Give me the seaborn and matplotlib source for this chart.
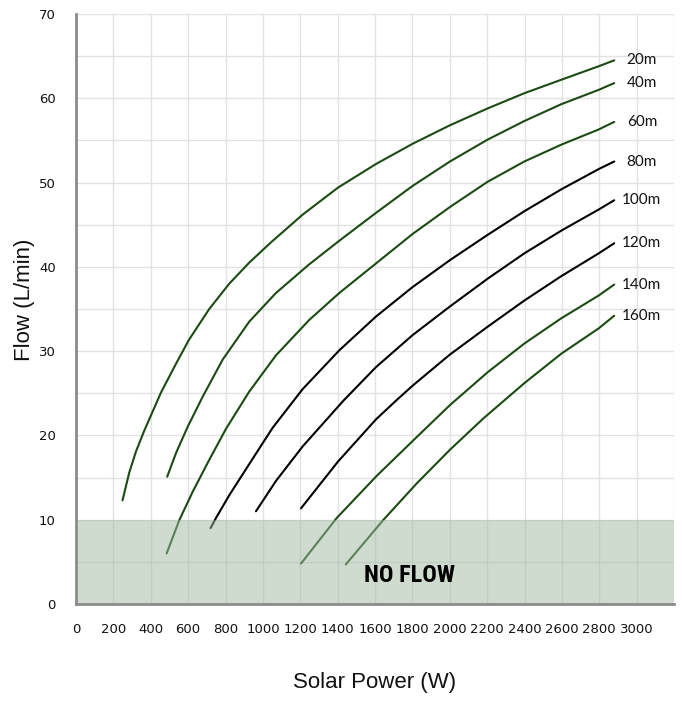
import numpy as np
import pandas as pd
import matplotlib
matplotlib.use("Agg")
import matplotlib.pyplot as plt
from matplotlib import font_manager
import seaborn as sns

# Pump curves: flow (L/min) against solar power (W) for each total head
heads = ["20m", "40m", "60m", "80m", "100m", "120m", "140m", "160m"]

power_20m = [249, 285, 321, 366, 455, 535, 606, 713, 820, 927, 1043, 1213, 1402, 1605, 1801, 2001, 2203, 2399, 2597, 2797, 2880]
flow_20m = [12.3, 15.6, 18.1, 20.6, 25.1, 28.5, 31.4, 35.0, 38.0, 40.5, 42.9, 46.2, 49.4, 52.2, 54.6, 56.8, 58.8, 60.6, 62.2, 63.8, 64.5]

power_40m = [488, 535, 597, 678, 785, 927, 1070, 1248, 1409, 1605, 1801, 2001, 2203, 2399, 2597, 2797, 2880]
flow_40m = [15.1, 17.9, 21.0, 24.6, 29.0, 33.5, 36.9, 40.3, 43.1, 46.4, 49.6, 52.5, 55.1, 57.3, 59.3, 61.0, 61.8]

power_60m = [485, 553, 624, 713, 803, 927, 1070, 1248, 1409, 1605, 1801, 2001, 2203, 2399, 2597, 2797, 2880]
flow_60m = [6.0, 9.96, 13.3, 17.1, 20.8, 25.2, 29.5, 33.7, 36.9, 40.4, 43.9, 47.1, 50.1, 52.5, 54.5, 56.3, 57.2]

power_80m = [720, 749, 820, 927, 1052, 1213, 1409, 1605, 1801, 2001, 2203, 2399, 2597, 2797, 2880]
flow_80m = [9.0, 10.2, 12.9, 16.6, 20.9, 25.5, 30.1, 34.1, 37.6, 40.8, 43.8, 46.6, 49.2, 51.6, 52.5]

power_100m = [963, 1070, 1213, 1430, 1605, 1801, 2001, 2203, 2399, 2597, 2797, 2880]
flow_100m = [11.0, 14.6, 18.7, 24.1, 28.1, 31.9, 35.3, 38.6, 41.6, 44.3, 46.8, 47.9]

power_120m = [1204, 1402, 1605, 1716, 1801, 2001, 2203, 2399, 2597, 2797, 2880]
flow_120m = [11.35, 16.9, 21.9, 24.2, 25.9, 29.6, 32.9, 36.0, 38.9, 41.6, 42.8]

power_140m = [1204, 1395, 1609, 1823, 2001, 2203, 2399, 2597, 2797, 2880]
flow_140m = [4.8, 10.2, 15.2, 19.8, 23.6, 27.5, 30.9, 33.9, 36.6, 37.9]

power_160m = [1444, 1644, 1823, 2001, 2179, 2399, 2597, 2797, 2880]
flow_160m = [4.7, 9.96, 14.3, 18.3, 22.0, 26.2, 29.7, 32.7, 34.2]

powers = [power_20m, power_40m, power_60m, power_80m, power_100m, power_120m, power_140m, power_160m]
flows = [flow_20m, flow_40m, flow_60m, flow_80m, flow_100m, flow_120m, flow_140m, flow_160m]

x_ticks = list(range(0, 3001, 200))
y_ticks = list(range(0, 71, 10))
no_flow_limit = 10

green = "#1b4a12"
palette = {h: (green if h in ("20m", "40m", "60m", "140m", "160m") else "#000000") for h in heads}

df = pd.concat(
    [pd.DataFrame({"Solar Power (W)": p, "Flow (L/min)": f, "Head": h})
     for h, p, f in zip(heads, powers, flows)],
    ignore_index=True,
)


def condensed_bold():
    """Pick a narrow bold face for the zone caption, if one is installed."""
    for family, stretch in [("Roboto Condensed", "normal"), ("Liberation Sans Narrow", "normal"),
                            ("DejaVu Sans", "condensed"), ("Open Sans", "condensed"),
                            ("Roboto", "condensed")]:
        prop = font_manager.FontProperties(family=family, weight="bold", stretch=stretch)
        try:
            path = font_manager.findfont(prop, fallback_to_default=False)
        except ValueError:
            continue
        low = path.lower()
        if "condensed" in low or "narrow" in low:
            return prop
    return font_manager.FontProperties(family="Liberation Sans", weight="bold")


sns.set_theme(style="white")
plt.rcParams["font.family"] = ["DejaVu Sans"]

fig = plt.figure(figsize=(6.82, 7.02), dpi=100)
ax = fig.add_axes([76 / 682, 98 / 702, 598 / 682, 590 / 702])

sns.lineplot(data=df, x="Solar Power (W)", y="Flow (L/min)", hue="Head",
             hue_order=heads, palette=palette, linewidth=1.5, legend=False,
             ax=ax, zorder=2)

# translucent band marking the no-flow zone, laid over the curves
ax.axhspan(0, no_flow_limit, facecolor="#9fb99f", alpha=0.5, edgecolor="none", zorder=3)
cap_font = condensed_bold()
cap_font.set_size(17.5)
cap_is_narrow = any(k in font_manager.findfont(cap_font).lower() for k in ("condensed", "narrow"))
if not cap_is_narrow:
    cap_font.set_size(13.5)
ax.text(1787, 3.36, "NO FLOW", ha="center", va="center", fontproperties=cap_font,
        color="black", zorder=5)

# head labels at the end of each curve
for h, p, f in zip(heads, powers, flows):
    ax.text(3028, f[-1], h, ha="center", va="center", fontsize=11,
            family=["Lato", "DejaVu Sans"], color="#111111")

ax.set_xlim(0, 3200)
ax.set_ylim(0, 70)
ax.set_xticks(x_ticks)
ax.set_yticks(y_ticks)
ax.set_xticks([3200], minor=True)
ax.set_yticks(np.arange(5, 70, 10), minor=True)
ax.tick_params(which="major", direction="out", length=4, width=2,
               color="#8c8c8c", labelsize=9.5, labelcolor="#111111")
ax.tick_params(axis="x", which="major", pad=10)
ax.tick_params(axis="y", which="major", pad=10.5)
ax.tick_params(which="minor", length=0)
ax.grid(which="both", color="#e2e2e2", linewidth=1.0)
ax.set_axisbelow(True)

for side in ("top", "right"):
    ax.spines[side].set_visible(False)
for side in ("left", "bottom"):
    ax.spines[side].set_color("#8c8c8c")
    ax.spines[side].set_linewidth(2)
    ax.spines[side].set_zorder(4)

ax.set_xlabel("Solar Power (W)", fontsize=16, family=["Liberation Sans", "DejaVu Sans"], color="#111111")
ax.set_ylabel("Flow (L/min)", fontsize=16, family=["Liberation Sans", "DejaVu Sans"], color="#111111")
ax.xaxis.set_label_coords(0.5, -0.133)
ax.xaxis.label.set_va("center")
ax.yaxis.set_label_coords(-0.0853, 0.515)
ax.yaxis.label.set_va("center")

fig.savefig("out.png", dpi=100)
